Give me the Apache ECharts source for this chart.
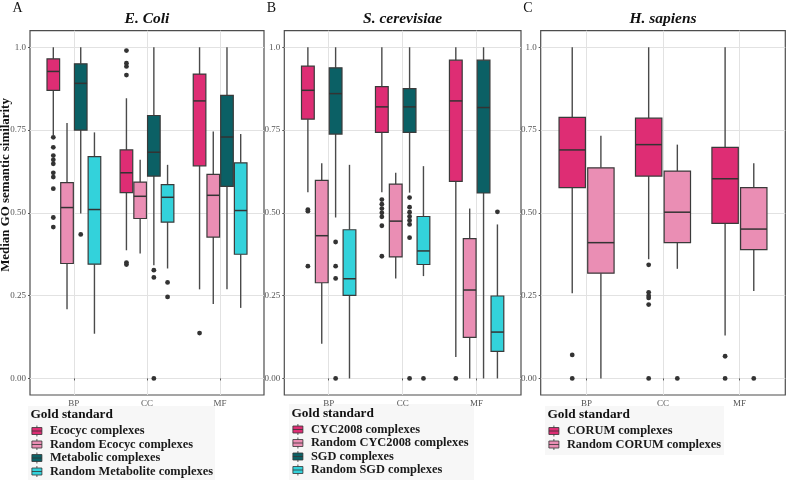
<!DOCTYPE html>
<html><head><meta charset="utf-8">
<script src="https://cdn.jsdelivr.net/npm/echarts@6/dist/echarts.min.js"></script>
<style>html,body{margin:0;padding:0;background:#fff}#c{width:787px;height:482px}</style>
</head><body><div id="c"></div>
<script>
// ---------- data ----------
const categories = ['BP', 'CC', 'MF'];
const yTicks = [0, 0.25, 0.5, 0.75, 1.0];
// each stats row: [min(whisker), Q1, median, Q3, max(whisker)] for BP, CC, MF

// E. coli
const ecoliEcocyc      = [[0.735,0.870,0.927,0.965,1.0],[0.387,0.561,0.621,0.690,0.846],[0.269,0.642,0.838,0.919,1.0]];
const ecoliEcocycOut   = [[0.728,0.698,0.673,0.660,0.648,0.621,0.608,0.573,0.486,0.457],[0.990,0.952,0.942,0.916,0.350,0.344],[0.137]];
const ecoliRandEcocyc  = [[0.209,0.347,0.516,0.591,0.771],[0.377,0.483,0.550,0.593,0.660],[0.225,0.427,0.553,0.616,0.746]];
const ecoliRandEcocycOut = [[],[],[]];
const ecoliMetabolic   = [[0.498,0.750,0.891,0.950,1.0],[0.342,0.611,0.683,0.794,1.0],[0.269,0.580,0.729,0.855,1.0]];
const ecoliMetabolicOut= [[0.435],[0.327,0.305,0.0],[]];
const ecoliRandMetab   = [[0.135,0.345,0.510,0.670,0.743],[0.332,0.472,0.547,0.585,0.645],[0.213,0.375,0.507,0.651,0.738]];
const ecoliRandMetabOut= [[],[0.290,0.246],[]];

// S. cerevisiae
const scCyc        = [[0.562,0.783,0.870,0.943,1.0],[0.562,0.743,0.820,0.881,1.0],[0.065,0.595,0.838,0.961,1.0]];
const scCycOut     = [[0.510,0.505,0.339],[0.540,0.526,0.513,0.500,0.488,0.461,0.369],[0.0]];
const scRandCyc    = [[0.105,0.289,0.431,0.598,0.650],[0.302,0.367,0.475,0.587,0.621],[0.0,0.124,0.267,0.422,0.513]];
const scRandCycOut = [[],[],[]];
const scSgd        = [[0.486,0.738,0.860,0.938,1.0],[0.561,0.743,0.820,0.875,1.0],[0.0,0.560,0.818,0.961,1.0]];
const scSgdOut     = [[0.412,0.339,0.302,0.0],[0.546,0.517,0.502,0.489,0.477,0.465,0.425,0.0],[]];
const scRandSgd    = [[0.0,0.251,0.301,0.449,0.645],[0.309,0.344,0.385,0.489,0.641],[0.0,0.082,0.140,0.249,0.465]];
const scRandSgdOut = [[],[0.0],[0.503]];

// H. sapiens
const hsCorum        = [[0.257,0.576,0.690,0.788,1.0],[0.360,0.611,0.706,0.786,1.0],[0.130,0.468,0.603,0.698,1.0]];
const hsCorumOut     = [[0.071,0.0],[0.343,0.260,0.250,0.243,0.223,0.0],[0.067,0.0]];
const hsRandCorum    = [[0.0,0.318,0.410,0.636,0.733],[0.331,0.410,0.502,0.626,0.706],[0.264,0.389,0.451,0.576,0.650]];
const hsRandCorumOut = [[],[0.0],[0.0]];

// ---------- styling / layout ----------
const FONT = "'Liberation Serif','DejaVu Serif',serif";
const MAG = '#DE2D74', PINK = '#EA8EB4', TEAL = '#0B6065', CYAN = '#33D2DB';

const panels = [
  { letter: 'A', title: 'E. Coli', left: 30, width: 234, legendTop: 425, titleY: 415,
    groups: [
      { name: 'Ecocyc complexes', color: MAG, stats: ecoliEcocyc, out: ecoliEcocycOut },
      { name: 'Random Ecocyc complexes', color: PINK, stats: ecoliRandEcocyc, out: ecoliRandEcocycOut },
      { name: 'Metabolic complexes', color: TEAL, stats: ecoliMetabolic, out: ecoliMetabolicOut },
      { name: 'Random Metabolite complexes', color: CYAN, stats: ecoliRandMetab, out: ecoliRandMetabOut }
    ], bg: [28, 406, 187, 74] },
  { letter: 'B', title: 'S. cerevisiae', left: 284.3, width: 236.7, legendTop: 423.5, titleY: 413.5,
    groups: [
      { name: 'CYC2008 complexes', color: MAG, stats: scCyc, out: scCycOut },
      { name: 'Random CYC2008 complexes', color: PINK, stats: scRandCyc, out: scRandCycOut },
      { name: 'SGD complexes', color: TEAL, stats: scSgd, out: scSgdOut },
      { name: 'Random SGD complexes', color: CYAN, stats: scRandSgd, out: scRandSgdOut }
    ], bg: [289, 404, 185, 76] },
  { letter: 'C', title: 'H. sapiens', left: 540.7, width: 244.6, legendTop: 425, titleY: 415,
    groups: [
      { name: 'CORUM complexes', color: MAG, stats: hsCorum, out: hsCorumOut },
      { name: 'Random CORUM complexes', color: PINK, stats: hsRandCorum, out: hsRandCorumOut }
    ], bg: [545, 406, 179, 49] }
];
const GRID_TOP = 30.7, GRID_H = 364.3;

function boxRenderer(j, n, color) {
  const slot = 0.75 / n, off = (j - (n - 1) / 2) * slot, hw = slot * 0.46;
  return function (params, api) {
    const x = api.value(0) + off;
    const mn = api.value(1), q1 = api.value(2), md = api.value(3), q3 = api.value(4), mx = api.value(5);
    const tl = api.coord([x - hw, q3]), br = api.coord([x + hw, q1]);
    const pMax = api.coord([x, mx]), pMin = api.coord([x, mn]);
    const pQ3 = api.coord([x, q3]), pQ1 = api.coord([x, q1]);
    const mL = api.coord([x - hw, md]), mR = api.coord([x + hw, md]);
    return { type: 'group', children: [
      { type: 'line', shape: { x1: pMax[0], y1: pMax[1], x2: pQ3[0], y2: pQ3[1] }, style: { stroke: '#4a4a4a', lineWidth: 1.4 } },
      { type: 'line', shape: { x1: pQ1[0], y1: pQ1[1], x2: pMin[0], y2: pMin[1] }, style: { stroke: '#4a4a4a', lineWidth: 1.4 } },
      { type: 'rect', shape: { x: tl[0], y: tl[1], width: br[0] - tl[0], height: br[1] - tl[1] }, style: { fill: color, stroke: '#3a3a3a', lineWidth: 1.2 } },
      { type: 'line', shape: { x1: mL[0], y1: mL[1], x2: mR[0], y2: mR[1] }, style: { stroke: '#333', lineWidth: 1.5 } }
    ] };
  };
}
function outRenderer(j, n) {
  const slot = 0.75 / n, off = (j - (n - 1) / 2) * slot;
  return function (params, api) {
    const p = api.coord([api.value(0) + off, api.value(1)]);
    return { type: 'circle', shape: { cx: p[0], cy: p[1], r: 2.4 }, style: { fill: '#333' } };
  };
}

const BOX_ICON = 'path://M5,0L5,2M0,2L10,2L10,9L0,9ZM0,5.5L10,5.5M5,9L5,11';
function txt(text, x, y, size, weight, style, align, extra) {
  return Object.assign({ type: 'text', x: x, y: y, z: 5, silent: true,
    style: { text: text, fontFamily: FONT, fontSize: size, fontWeight: weight, fontStyle: style,
      fill: '#111', align: align, verticalAlign: 'middle' } }, extra || {});
}

const grid = [], xAxis = [], yAxis = [], series = [], legend = [], graphic = [];
panels.forEach((p, i) => {
  grid.push({ left: p.left, top: GRID_TOP, width: p.width, height: GRID_H, show: true,
    borderColor: '#4d4d4d', borderWidth: 1.2, backgroundColor: 'transparent' });
  xAxis.push({ type: 'value', gridIndex: i, min: 0.4, max: 3.6,
    axisLine: { show: false },
    axisTick: { show: true, length: 2, customValues: [1, 2, 3], lineStyle: { color: '#555' } },
    axisLabel: { customValues: [1, 2, 3], formatter: v => categories[Math.round(v) - 1],
      fontFamily: FONT, fontSize: 9, color: '#555', margin: 4 },
    splitLine: { show: true, lineStyle: { color: '#e2e2e2', width: 1 } } });
  yAxis.push({ type: 'value', gridIndex: i, min: -0.05, max: 1.05,
    axisLine: { show: false },
    axisTick: { show: true, length: 2, customValues: yTicks, lineStyle: { color: '#555' } },
    axisLabel: { customValues: yTicks, formatter: v => (v === 1 ? '1.0' : v.toFixed(2)),
      fontFamily: FONT, fontSize: 9, color: '#555', margin: 4 },
    splitLine: { show: true, lineStyle: { color: '#e2e2e2', width: 1 } } });
  const n = p.groups.length;
  p.groups.forEach((g, j) => {
    series.push({ type: 'custom', name: g.name, xAxisIndex: i, yAxisIndex: i,
      itemStyle: { color: g.color }, renderItem: boxRenderer(j, n, g.color),
      data: g.stats.map((s, k) => [k + 1].concat(s)), z: 3 });
    const pts = [];
    g.out.forEach((vals, k) => vals.forEach(v => pts.push([k + 1, v])));
    series.push({ type: 'custom', name: g.name + ' (outliers)', xAxisIndex: i, yAxisIndex: i,
      itemStyle: { color: '#333' }, renderItem: outRenderer(j, n), data: pts, z: 4 });
  });
  legend.push({ orient: 'vertical', left: p.bg[0] + 3.5, top: p.legendTop, padding: 0, itemGap: 1.5,
    itemWidth: 10, itemHeight: 11, icon: BOX_ICON, selectedMode: false,
    data: p.groups.map(g => g.name),
    itemStyle: { borderColor: '#333', borderWidth: 0.8 },
    textStyle: { fontFamily: FONT, fontWeight: 'bold', fontSize: 12.4, color: '#1a1a1a', padding: [0, 0, 0, 3] } });
  graphic.push({ type: 'rect', z: 0, silent: true,
    shape: { x: p.bg[0], y: p.bg[1], width: p.bg[2], height: p.bg[3] }, style: { fill: '#f7f7f7' } });
  graphic.push(txt('Gold standard', p.bg[0] + 2.5, p.titleY, 13.3, 'bold', 'normal', 'left'));
  graphic.push(txt(p.letter, p.left - 17.5, 8, 14, 'normal', 'normal', 'left'));
  graphic.push(txt(p.title, p.left + p.width / 2, 19, 15.5, 'bold', 'italic', 'center'));
});
graphic.push(txt('Median GO semantic similarity', 5.5, 185, 12.9, 'bold', 'normal', 'center', { rotation: Math.PI / 2 }));

const chart = echarts.init(document.getElementById('c'), null, { renderer: 'canvas' });
chart.setOption({ backgroundColor: '#fff', animation: false, grid, xAxis, yAxis, series, legend, graphic });
</script></body></html>
